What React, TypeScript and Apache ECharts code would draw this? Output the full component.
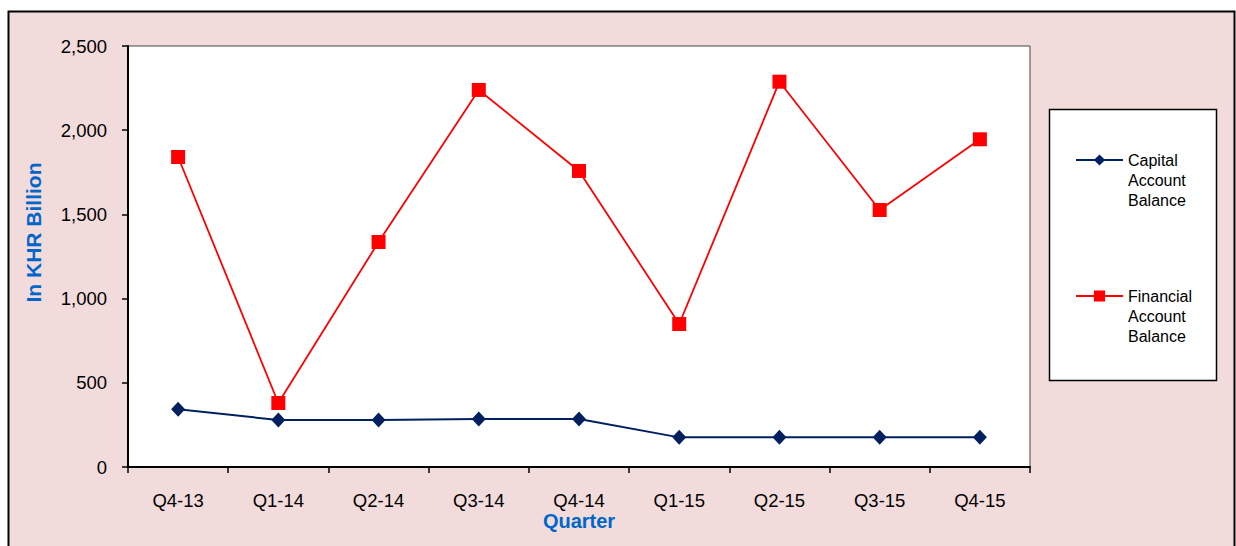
import React, { useEffect, useRef } from "react";
import * as echarts from "echarts";

const quarters = ["Q4-13", "Q1-14", "Q2-14", "Q3-14", "Q4-14", "Q1-15", "Q2-15", "Q3-15", "Q4-15"];
const capitalAccount = [343, 279, 279, 285, 285, 176, 176, 176, 176];
const financialAccount = [1841, 380, 1336, 2239, 1758, 849, 2288, 1526, 1946];
const seriesNames = ["Capital Account Balance", "Financial Account Balance"];
const yTicks = { min: 0, max: 2500, interval: 500 };

const FONT = "'Liberation Sans', Arial, sans-serif";

export default function App() {
  const ref = useRef<HTMLDivElement>(null);
  useEffect(() => {
    if (!ref.current) return;
    const chart = echarts.init(ref.current, null, { renderer: "svg" });
    chart.setOption({
      animation: false,
      backgroundColor: "#ffffff",
      textStyle: { fontFamily: FONT },
      graphic: [
        {
          type: "rect",
          z: -10,
          shape: { x: 8.5, y: 11.5, width: 1226, height: 560 },
          style: { fill: "#f2dcdb", stroke: "#000", lineWidth: 2 },
        },
        {
          type: "rect",
          z: -5,
          shape: { x: 1049.5, y: 109.5, width: 167, height: 271 },
          style: { fill: "#ffffff", stroke: "#000", lineWidth: 1.5 },
        },
      ],
      grid: {
        left: 128,
        top: 46,
        width: 902,
        height: 421,
        show: true,
        backgroundColor: "#ffffff",
        borderColor: "#444",
        borderWidth: 1,
      },
      legend: {
        orient: "vertical",
        left: 1075,
        top: 110,
        padding: 0,
        itemWidth: 47,
        itemHeight: 14,
        itemGap: 36,
        data: seriesNames,
        formatter: (n: string) => "\n\n" + n.split(" ").join("\n"),
        textStyle: {
          fontFamily: FONT,
          fontSize: 16,
          color: "#000",
          lineHeight: 20,
        },
      },
      xAxis: {
        type: "category",
        data: quarters,
        boundaryGap: true,
        name: "Quarter",
        nameLocation: "middle",
        nameGap: 44,
        nameMoveOverlap: false,
        nameTextStyle: { color: "#0066cc", fontWeight: "bold", fontSize: 20, fontFamily: FONT },
        axisLine: { lineStyle: { color: "#000", width: 2 } },
        axisTick: { show: true, length: 6, inside: false, lineStyle: { color: "#000", width: 1.5 } },
        axisLabel: { color: "#000", fontSize: 18.5, margin: 24, fontFamily: FONT },
        splitLine: { show: false },
      },
      yAxis: {
        type: "value",
        min: yTicks.min,
        max: yTicks.max,
        interval: yTicks.interval,
        name: "In KHR Billion",
        nameLocation: "middle",
        nameGap: 84,
        nameMoveOverlap: false,
        nameTextStyle: {
          color: "#0066cc",
          fontWeight: "bold",
          fontSize: 21,
          fontFamily: FONT,
          padding: [0, 0, 0, 48],
        },
        axisLine: { show: true, lineStyle: { color: "#000", width: 2 } },
        axisTick: { show: true, length: 6, lineStyle: { color: "#000", width: 1.5 } },
        axisLabel: {
          color: "#000",
          fontSize: 18.5,
          margin: 21,
          fontFamily: FONT,
          formatter: (v: number) => v.toLocaleString("en-US"),
        },
        splitLine: { show: false },
      },
      series: [
        {
          name: seriesNames[0],
          type: "line",
          data: capitalAccount,
          symbol: "diamond",
          symbolSize: [14, 15],
          color: "#002060",
          lineStyle: { color: "#002060", width: 2 },
          itemStyle: { color: "#002060" },
        },
        {
          name: seriesNames[1],
          type: "line",
          data: financialAccount,
          symbol: "rect",
          symbolSize: 14,
          color: "#ff0000",
          lineStyle: { color: "#ff0000", width: 1.8 },
          itemStyle: { color: "#ff0000" },
        },
      ],
    });
    return () => chart.dispose();
  }, []);
  return (
    <div
      ref={ref}
      style={{ position: "fixed", left: 0, top: 0, width: 1236, height: 546 }}
    />
  );
}
